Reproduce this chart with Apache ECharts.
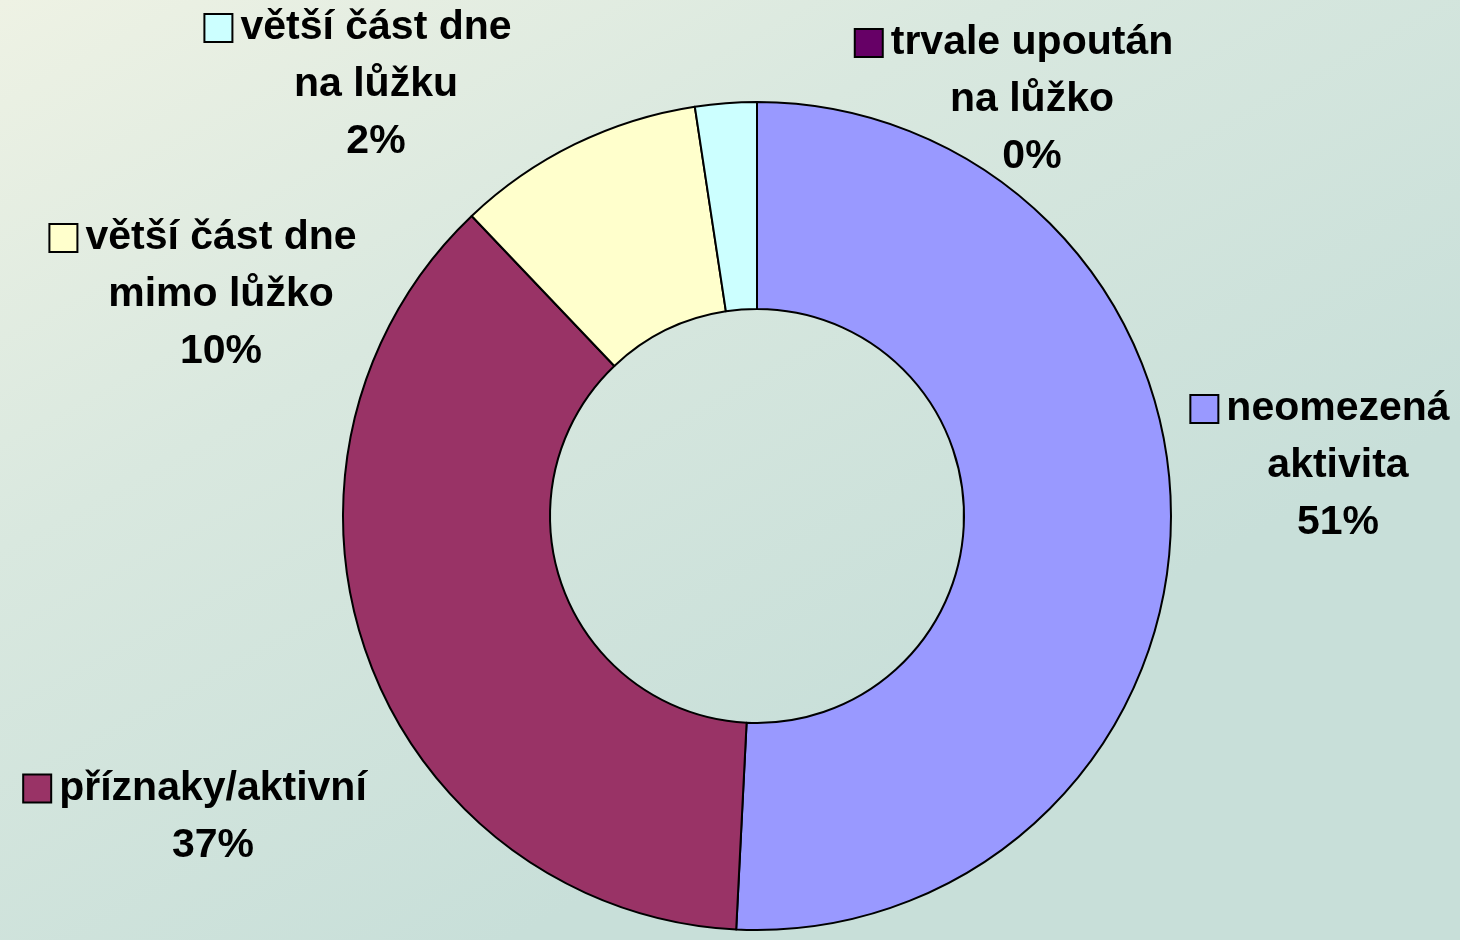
<!DOCTYPE html>
<html>
<head>
<meta charset="utf-8">
<style>
  html, body { margin: 0; padding: 0; }
  #chart { width: 1460px; height: 940px; }
</style>
<script src="https://cdn.jsdelivr.net/npm/echarts@6/dist/echarts.min.js"></script>
</head>
<body>
<div id="chart"></div>
<script>
// kategorie (zalomení řádků jako v grafu)
var categories = [
  'neomezená\naktivita',
  'příznaky/aktivní',
  'větší část dne\nmimo lůžko',
  'větší část dne\nna lůžku',
  'trvale upoután\nna lůžko'
];
// podíly v %
var values = [50.8, 37.1, 9.7, 2.4, 0];
var colors = ['#9999FF', '#993366', '#FFFFCC', '#CCFFFF', '#660066'];

// středy popisků (x, y)
var labelPos = [[1338, 466], [213, 817], [221, 295], [376, 85], [1032, 100]];

var chart = echarts.init(document.getElementById('chart'));

var rich = {
  t: { fontFamily: 'Liberation Sans, Arial', fontWeight: 'bold', fontSize: 41, color: '#000', lineHeight: 57, align: 'center' },
  gap: { width: 9, align: 'center' },
  pad: { width: 35, align: 'center' }
};
colors.forEach(function (c, i) {
  rich['sq' + i] = { width: 26, height: 26, backgroundColor: c, borderColor: '#000', borderWidth: 2, align: 'center' };
});

var data = categories.map(function (name, i) {
  return { name: name, value: values[i], itemStyle: { color: colors[i] } };
});

var option = {
  backgroundColor: new echarts.graphic.LinearGradient(0, 0, 0.35, 1, [
    { offset: 0, color: '#eef2e4' },
    { offset: 0.45, color: '#d9e8df' },
    { offset: 1, color: '#c8dfd9' }
  ]),
  animation: false,
  series: [{
    type: 'pie',
    center: [757, 516],
    radius: [207, 414],
    startAngle: 90,
    clockwise: true,
    avoidLabelOverlap: false,
    data: data,
    itemStyle: {
      borderColor: '#000',
      borderWidth: 2
    },
    label: {
      show: true,
      position: 'outside',
      rich: rich,
      formatter: function (p) {
        var lines = p.name.split('\n');
        var out = '{sq' + p.dataIndex + '| }{gap| }{t|' + lines[0] + '}{pad| }';
        for (var i = 1; i < lines.length; i++) {
          out += '\n{t|' + lines[i] + '}';
        }
        out += '\n{t|' + Math.round(p.percent) + '%}';
        return out;
      }
    },
    labelLine: { show: false },
    labelLayout: function (params) {
      var pos = labelPos[params.dataIndex];
      return { x: pos[0], y: pos[1], align: 'center', verticalAlign: 'middle' };
    }
  }]
};

chart.setOption(option);
window.onresize = function () {
  chart.resize();
};
</script>
</body>
</html>
